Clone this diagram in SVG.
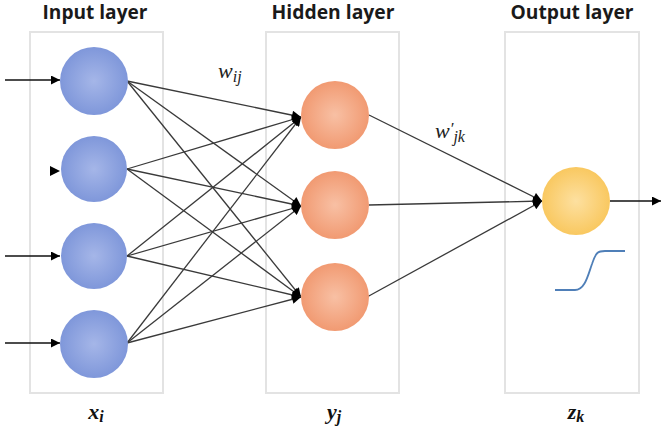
<svg xmlns="http://www.w3.org/2000/svg" width="661" height="428" viewBox="0 0 661 428">
<style>
.box{fill:#fff;stroke:#e3e3e3;stroke-width:2}
.title{font-family:"Open Sans","Liberation Sans",sans-serif;font-weight:bold;font-size:19px;fill:#1a1a1a;text-anchor:middle}
.var{font-family:"Liberation Serif","DejaVu Serif",serif;font-weight:bold;font-style:italic;font-size:22px;fill:#111;text-anchor:middle}
.w{font-family:"Liberation Serif","DejaVu Serif",serif;font-style:italic;font-size:22px;fill:#222}
.e{stroke:#3a3a3a;stroke-width:1.3;fill:none}
.in{stroke:#111;stroke-width:1.6;fill:none}
</style>
<defs>
<radialGradient id="gBlue" cx="50%" cy="50%" r="50%">
<stop offset="0" stop-color="#a5b6e8"/><stop offset="1" stop-color="#7f97da"/>
</radialGradient>
<radialGradient id="gOrange" cx="50%" cy="50%" r="50%">
<stop offset="0" stop-color="#f8c0a4"/><stop offset="1" stop-color="#f19a72"/>
</radialGradient>
<radialGradient id="gYellow" cx="50%" cy="50%" r="50%">
<stop offset="0" stop-color="#fde0a0"/><stop offset="1" stop-color="#f9c860"/>
</radialGradient>
<marker id="ah" viewBox="0 0 10 10" refX="10" refY="5" markerWidth="10" markerHeight="9" markerUnits="userSpaceOnUse" orient="auto">
<path d="M0,0 L10,5 L0,10 Z" fill="#000"/>
</marker>
</defs>

<g id="input-layer">
<rect class="box" x="30" y="32" width="133" height="361"/>
<text class="title" x="95" y="19" textLength="105" lengthAdjust="spacingAndGlyphs">Input layer</text>
<text class="var" x="96" y="419">x<tspan font-size="16" dy="3">i</tspan></text>
</g>
<g id="hidden-layer">
<rect class="box" x="266" y="32" width="133" height="361"/>
<text class="title" x="333" y="19" textLength="123" lengthAdjust="spacingAndGlyphs">Hidden layer</text>
<text class="var" x="334" y="419">y<tspan font-size="16" dy="3">j</tspan></text>
</g>
<g id="output-layer">
<rect class="box" x="505" y="32" width="134" height="361"/>
<text class="title" x="572" y="19" textLength="123" lengthAdjust="spacingAndGlyphs">Output layer</text>
<text class="var" x="576" y="419">z<tspan font-size="16" dy="3">k</tspan></text>
</g>

<g id="connectors">
<line class="in" x1="5" y1="80" x2="60" y2="80" marker-end="url(#ah)"/>
<path d="M50,166 L60,171 L50,176 Z" fill="#000"/>
<line class="in" x1="5" y1="256" x2="60" y2="256" marker-end="url(#ah)"/>
<line class="in" x1="5" y1="343" x2="60" y2="343" marker-end="url(#ah)"/>

<line class="e" x1="127" y1="81" x2="301" y2="117" marker-end="url(#ah)"/>
<line class="e" x1="127" y1="81" x2="301" y2="206" marker-end="url(#ah)"/>
<line class="e" x1="127" y1="81" x2="301" y2="297" marker-end="url(#ah)"/>
<line class="e" x1="127" y1="169" x2="301" y2="117" marker-end="url(#ah)"/>
<line class="e" x1="127" y1="169" x2="301" y2="206" marker-end="url(#ah)"/>
<line class="e" x1="127" y1="169" x2="301" y2="297" marker-end="url(#ah)"/>
<line class="e" x1="127" y1="256" x2="301" y2="117" marker-end="url(#ah)"/>
<line class="e" x1="127" y1="256" x2="301" y2="206" marker-end="url(#ah)"/>
<line class="e" x1="127" y1="256" x2="301" y2="297" marker-end="url(#ah)"/>
<line class="e" x1="127" y1="343" x2="301" y2="117" marker-end="url(#ah)"/>
<line class="e" x1="127" y1="343" x2="301" y2="206" marker-end="url(#ah)"/>
<line class="e" x1="127" y1="343" x2="301" y2="297" marker-end="url(#ah)"/>

<line class="e" x1="369" y1="115" x2="542" y2="201" marker-end="url(#ah)"/>
<line class="e" x1="369" y1="205" x2="542" y2="201" marker-end="url(#ah)"/>
<line class="e" x1="367" y1="297" x2="542" y2="201" marker-end="url(#ah)"/>

<line class="in" x1="610" y1="201" x2="661" y2="201" marker-end="url(#ah)"/>
<text class="w" x="218" y="78">w<tspan font-size="16" dy="4">ij</tspan></text>
<text class="w" x="435" y="138">w<tspan font-size="17" dy="-4">′</tspan><tspan font-size="16" dy="8">jk</tspan></text>
</g>

<g id="input-nodes">
<circle id="x1" cx="94" cy="81" r="34" fill="url(#gBlue)"/>
<circle id="x2" cx="94" cy="169" r="33" fill="url(#gBlue)"/>
<circle id="x3" cx="94" cy="256" r="33" fill="url(#gBlue)"/>
<circle id="x4" cx="94" cy="344" r="34" fill="url(#gBlue)"/>
</g>
<g id="hidden-nodes">
<circle id="y1" cx="335" cy="115" r="34" fill="url(#gOrange)"/>
<circle id="y2" cx="335" cy="205" r="34" fill="url(#gOrange)"/>
<circle id="y3" cx="335" cy="297" r="34" fill="url(#gOrange)"/>
</g>
<g id="output-node">
<circle id="z1" cx="576" cy="201" r="34" fill="url(#gYellow)"/>
<path d="M555,290 L575,290 C585,290 588,275 592,264 C596,252 598,251 605,251 L625,251" fill="none" stroke="#4f7fb8" stroke-width="1.8"/>
</g>
</svg>
